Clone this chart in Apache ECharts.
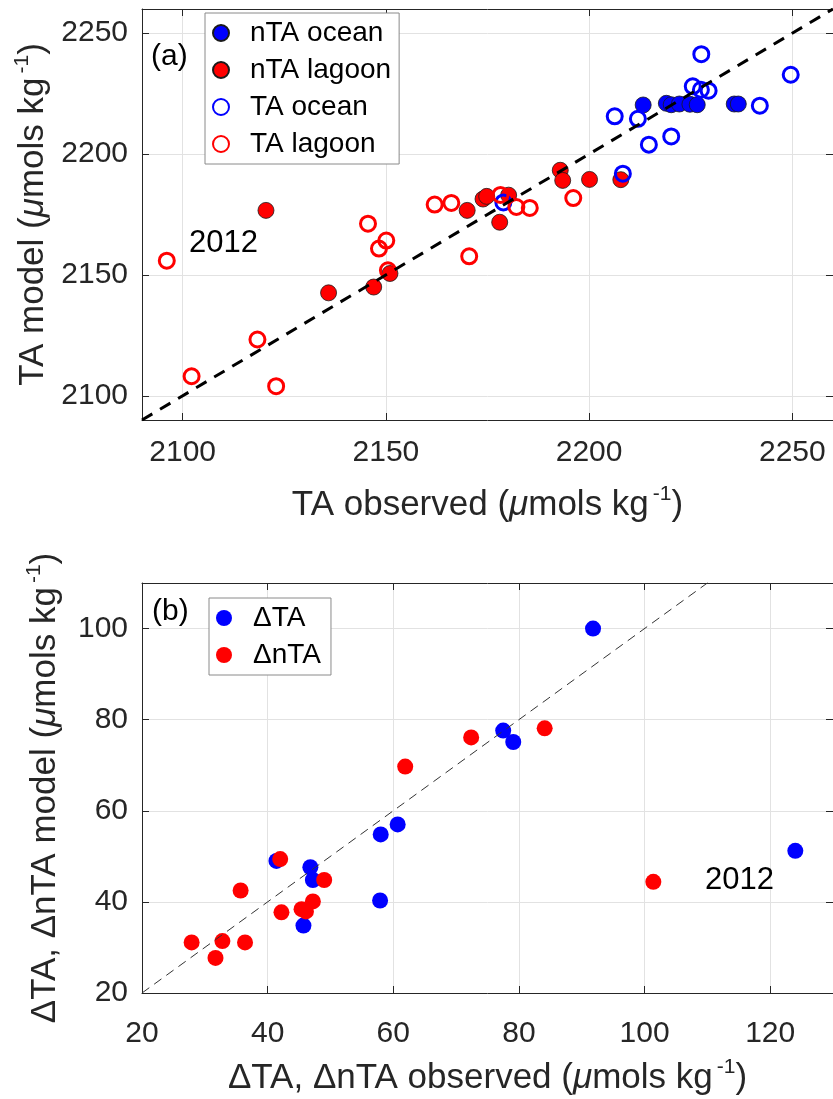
<!DOCTYPE html>
<html><head><meta charset="utf-8">
<script src="https://cdn.jsdelivr.net/npm/echarts@6/dist/echarts.min.js"></script>
<style>html,body{margin:0;padding:0;background:#fff}#c{width:833px;height:1099px}</style>
</head><body><div id="c"></div>
<script>
// ---------- Panel (a) data ----------
const ntaOceanObs   = [2213.3, 2219.0, 2220.2, 2222.2, 2224.8, 2226.6, 2235.7, 2236.7];
const ntaOceanMod   = [2220.3, 2221.0, 2220.4, 2220.7, 2220.6, 2220.4, 2220.7, 2220.7];
const ntaLagoonObs  = [2120.5, 2135.9, 2147.0, 2151.0, 2170.0, 2173.9, 2174.8, 2178.0, 2180.2, 2192.9, 2193.5, 2200.1, 2207.8];
const ntaLagoonMod  = [2176.7, 2142.6, 2145.0, 2150.6, 2176.7, 2181.4, 2182.5, 2171.8, 2183.0, 2193.3, 2189.1, 2189.5, 2189.4];
const taOceanObs    = [2227.6, 2249.6, 2225.5, 2227.5, 2229.4, 2206.3, 2212.0, 2242.0, 2214.7, 2220.2, 2208.3, 2178.9];
const taOceanMod    = [2241.3, 2232.8, 2228.0, 2226.6, 2226.2, 2215.6, 2214.6, 2220.0, 2203.9, 2207.3, 2191.9, 2180.0];
const taLagoonObs   = [2096.1, 2102.2, 2118.4, 2123.0, 2145.6, 2150.1, 2148.3, 2150.5, 2162.0, 2166.1, 2170.5, 2178.2, 2182.1, 2185.4, 2196.1];
const taLagoonMod   = [2155.9, 2108.1, 2123.3, 2104.0, 2171.2, 2164.2, 2160.9, 2151.9, 2179.1, 2179.8, 2157.7, 2183.1, 2178.1, 2177.7, 2181.8];
const axisRangeA    = [2090, 2260];
const ticksA        = [2100, 2150, 2200, 2250];

// ---------- Panel (b) data ----------
const dTAObs   = [91.8, 77.5, 79.1, 60.7, 58.0, 57.9, 41.4, 46.8, 47.2, 45.7, 124.0];
const dTAMod   = [100.0, 77.6, 75.1, 57.0, 54.8, 40.3, 49.0, 47.6, 44.8, 34.8, 51.2];
const dnTAObs  = [84.1, 72.4, 61.9, 42.0, 49.0, 35.7, 47.2, 45.4, 46.1, 42.2, 27.9, 32.8, 36.4, 31.7, 101.4];
const dnTAMod  = [78.1, 76.1, 69.7, 49.4, 44.8, 42.5, 40.1, 38.4, 37.9, 37.7, 31.1, 31.4, 31.1, 27.7, 44.4];
const xRangeB  = [20, 130];
const yRangeB  = [20, 110];
const xTicksB  = [20, 40, 60, 80, 100, 120];
const yTicksB  = [20, 40, 60, 80, 100];
const lineB    = [20, 130];

const zip = (a, b) => a.map((v, i) => [v, b[i]]);
const FF = '"Liberation Sans", Arial, Helvetica, sans-serif';
const AX = '#262626';
const GRIDC = '#e2e2e2';
const plain = (v) => String(v);

function nameRich() {
  return {
    fontFamily: FF, color: AX,
    rich: {
      n: {fontSize: 35, fontFamily: FF, color: AX, lineHeight: 42},
      i: {fontSize: 35, fontFamily: FF, color: AX, fontStyle: 'italic', lineHeight: 42},
      s: {fontSize: 21, fontFamily: FF, color: AX, verticalAlign: 'top', lineHeight: 42, padding: [0, 0, 0, 4]}
    }
  };
}
const unitTail = '{n|(}{i|μ}{n|mols kg}{s|-1}{n|)}';

function mainX(grid, range, ticks, name, labelMargin) {
  return {
    gridIndex: grid, type: 'value', min: range[0], max: range[1], position: 'bottom',
    name: name, nameLocation: 'middle', nameGap: 64, nameTextStyle: nameRich(),
    axisLine: {show: true, onZero: false, lineStyle: {color: AX, width: 1}},
    axisTick: {show: true, inside: true, length: 7, customValues: ticks, lineStyle: {color: AX}},
    axisLabel: {show: true, customValues: ticks, formatter: plain, margin: labelMargin, fontSize: 30, fontFamily: FF, color: AX},
    splitLine: {show: true, lineStyle: {color: GRIDC, width: 1}}
  };
}
function mainY(grid, range, ticks, name) {
  return {
    gridIndex: grid, type: 'value', min: range[0], max: range[1], position: 'left',
    name: name, nameLocation: 'middle', nameGap: 76, nameRotate: 90, nameTextStyle: nameRich(),
    axisLine: {show: true, onZero: false, lineStyle: {color: AX, width: 1}},
    axisTick: {show: true, inside: true, length: 7, customValues: ticks, lineStyle: {color: AX}},
    axisLabel: {show: true, customValues: ticks, formatter: plain, margin: 14, fontSize: 30, fontFamily: FF, color: AX},
    splitLine: {show: true, lineStyle: {color: GRIDC, width: 1}}
  };
}
function boxAxis(grid, range, ticks, pos) {
  return {
    gridIndex: grid, type: 'value', min: range[0], max: range[1], position: pos,
    axisLine: {show: true, onZero: false, lineStyle: {color: AX, width: 1}},
    axisTick: {show: true, inside: true, length: 7, customValues: ticks, lineStyle: {color: AX}},
    axisLabel: {show: false},
    splitLine: {show: false}
  };
}

const filledA = (color) => ({color: color, opacity: 1, borderColor: '#1a1a1a', borderWidth: 0.8});
const openA = (color) => ({color: 'rgba(255,255,255,0)', opacity: 1, borderColor: color, borderWidth: 3});

const option = {
  animation: false,
  backgroundColor: '#fff',
  grid: [
    {left: 142, top: 9, width: 695, height: 411, containLabel: false},
    {left: 142, top: 583, width: 695, height: 410, containLabel: false}
  ],
  xAxis: [
    mainX(0, axisRangeA, ticksA, '{n|TA observed }' + unitTail, 18),
    boxAxis(0, axisRangeA, ticksA, 'top'),
    mainX(1, xRangeB, xTicksB, '{n|ΔTA, ΔnTA observed }' + unitTail, 26),
    boxAxis(1, xRangeB, xTicksB, 'top')
  ],
  yAxis: [
    mainY(0, axisRangeA, ticksA, '{n|TA model }' + unitTail),
    boxAxis(0, axisRangeA, ticksA, 'right'),
    mainY(1, yRangeB, yTicksB, '{n|ΔTA, ΔnTA model }' + unitTail),
    boxAxis(1, yRangeB, yTicksB, 'right')
  ],
  legend: [
    {
      data: ['nTA ocean', 'nTA lagoon', 'TA ocean', 'TA lagoon'],
      orient: 'vertical', left: 205, top: 13, padding: [5, 8, 5, 7],
      itemWidth: 48, itemHeight: 16, itemGap: 7,
      textStyle: {fontSize: 28, lineHeight: 30, fontFamily: FF, color: '#000'},
      borderColor: '#8a8a8a', borderWidth: 1, backgroundColor: '#fff', borderRadius: 0
    },
    {
      data: ['ΔTA', 'ΔnTA'],
      orient: 'vertical', left: 209, top: 598, padding: [5, 10, 5, 7],
      itemWidth: 48, itemHeight: 16, itemGap: 7,
      textStyle: {fontSize: 28, lineHeight: 30, fontFamily: FF, color: '#000'},
      borderColor: '#8a8a8a', borderWidth: 1, backgroundColor: '#fff', borderRadius: 0
    }
  ],
  series: [
    {name: 'nTA ocean', type: 'scatter', xAxisIndex: 0, yAxisIndex: 0, symbol: 'circle', symbolSize: 16,
     itemStyle: filledA('#0000ff'), data: zip(ntaOceanObs, ntaOceanMod)},
    {name: 'nTA lagoon', type: 'scatter', xAxisIndex: 0, yAxisIndex: 0, symbol: 'circle', symbolSize: 16,
     itemStyle: filledA('#ff0000'), data: zip(ntaLagoonObs, ntaLagoonMod)},
    {name: 'TA ocean', type: 'scatter', xAxisIndex: 0, yAxisIndex: 0, symbol: 'circle', symbolSize: 15,
     itemStyle: openA('#0000ff'), data: zip(taOceanObs, taOceanMod)},
    {name: 'TA lagoon', type: 'scatter', xAxisIndex: 0, yAxisIndex: 0, symbol: 'circle', symbolSize: 15,
     itemStyle: openA('#ff0000'), data: zip(taLagoonObs, taLagoonMod)},
    {name: 'oneToOneA', type: 'line', xAxisIndex: 0, yAxisIndex: 0, symbol: 'none', silent: true, clip: true,
     lineStyle: {color: '#000', width: 3, type: [12, 9]}, data: zip(axisRangeA, axisRangeA), z: 5},

    {name: 'ΔTA', type: 'scatter', xAxisIndex: 2, yAxisIndex: 2, symbol: 'circle', symbolSize: 16,
     itemStyle: {color: '#0000ff', opacity: 1}, data: zip(dTAObs, dTAMod)},
    {name: 'ΔnTA', type: 'scatter', xAxisIndex: 2, yAxisIndex: 2, symbol: 'circle', symbolSize: 16,
     itemStyle: {color: '#ff0000', opacity: 1}, data: zip(dnTAObs, dnTAMod)},
    {name: 'oneToOneB', type: 'line', xAxisIndex: 2, yAxisIndex: 2, symbol: 'none', silent: true, clip: true,
     lineStyle: {color: '#333', width: 1, type: [9, 6]}, data: zip(lineB, lineB), z: 5}
  ],
  graphic: [
    {type: 'text', left: 151, top: 42, z: 100, style: {text: '(a)', fontSize: 30, fontFamily: FF, fill: '#000'}},
    {type: 'text', left: 152, top: 597, z: 100, style: {text: '(b)', fontSize: 30, fontFamily: FF, fill: '#000'}},
    {type: 'text', left: 189, top: 228, z: 100, style: {text: '2012', fontSize: 31, fontFamily: FF, fill: '#000'}},
    {type: 'text', left: 705, top: 865, z: 100, style: {text: '2012', fontSize: 31, fontFamily: FF, fill: '#000'}}
  ]
};

const chart = echarts.init(document.getElementById('c'), null, {renderer: 'canvas'});
chart.setOption(option);
</script>
</body></html>
